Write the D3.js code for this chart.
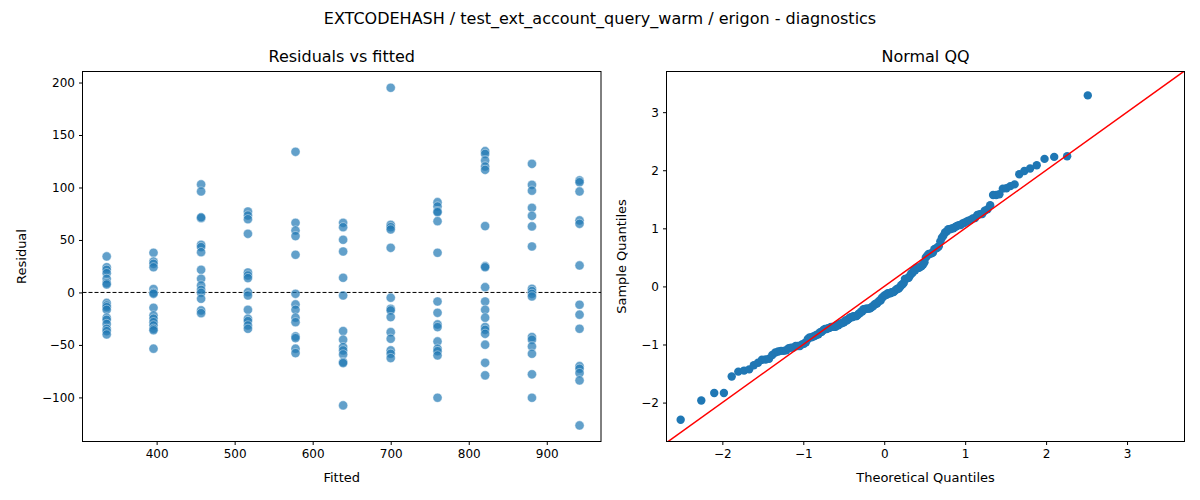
<!DOCTYPE html>
<html><head><meta charset="utf-8">
<script src="https://cdn.jsdelivr.net/npm/d3@7"></script>
<style>
body{margin:0;background:#fff;font-family:"DejaVu Sans",sans-serif;}
text{font-family:"DejaVu Sans",sans-serif;fill:#000;}
.tick text{font-size:12px;}
</style></head>
<body><svg id="chart" width="1200" height="500"></svg>
<script>
// fitted value of each group
var fitted = [336, 396, 457, 517, 578, 639, 700, 760, 821, 881, 942];
// residuals per group
var residuals = [
  [34.3, 24, 21.6, 18.4, 13, 8.9, 7.6, -10, -12.4, -14, -16.5, -24, -26, -30, -34.6, -36.8, -40],
  [37.8, 29.5, 27.3, 24, 3.2, -0.3, -1.3, -14.6, -21.9, -25, -28.3, -31.4, -34.6, -36, -53.6],
  [102.9, 96.2, 70.8, 71.5, 45.4, 43.2, 38.4, 21.6, 13, 6.7, 2.5, -0.3, -6, -17.1, -19.7],
  [77.1, 73.3, 69.8, 55.9, 19, 16.2, 13.7, 0.3, -2.9, -16.5, -25, -27.3, -31.4, -34.6],
  [134, 66.3, 59, 53.7, 35.9, -1.3, -11.4, -16.5, -24, -28.3, -41.9, -43.5, -53.6, -57.8],
  [66.3, 62.2, 50.2, 39, 14, -2.9, -36.8, -45, -52, -55.2, -59, -66.3, -67.3, -107.6],
  [195, 64.4, 62.2, 60, 42.5, -5, -15.6, -17.1, -23.5, -37.8, -44.1, -55.2, -58.4, -62.5],
  [86, 81.9, 77.4, 76.5, 67.9, 37.8, -8.6, -19.4, -30.5, -33, -46.7, -53.6, -55.9, -60, -100.3],
  [134.6, 132, 125.7, 120, 116.8, 63.2, 25, 24, 5, -8.6, -16.5, -24, -33, -35.6, -39.4, -49.8, -67, -79],
  [122.5, 102.5, 97, 80.6, 73, 62.9, 43.8, 3.5, 1.3, -1.3, -3.8, -42.5, -45, -51.4, -58.4, -78, -100.3],
  [106.7, 105, 96.2, 68.6, 65.4, 25.7, -11.7, -21.2, -34.6, -70.2, -72.7, -76.8, -83.8, -126.7]
];
var residTicks = [-100, -50, 0, 50, 100, 150, 200];
var fittedTicks = [400, 500, 600, 700, 800, 900];
var qqTicks = [-2, -1, 0, 1, 2, 3];
var qqYTicks = [-2, -1, 0, 1, 2, 3];

var points = [];
fitted.forEach((f, i) => residuals[i].forEach(r => points.push({ f: f, r: r })));

// inverse normal cdf (Acklam)
function ppf(p) {
  var a = [-39.69683028665376, 220.9460984245205, -275.9285104469687, 138.357751867269, -30.66479806614716, 2.506628277459239];
  var b = [-54.47609879822406, 161.5858368580409, -155.6989798598866, 66.80131188771972, -13.28068155211639];
  var c = [-0.007784894002430293, -0.3223964580411365, -2.400758277161838, -2.549732539343734, 4.374664141464968, 2.938163982698783];
  var d = [0.007784695709041462, 0.3224671290700398, 2.445134137142996, 3.754408661907416];
  var q, r;
  if (p < 0.02425) {
    q = Math.sqrt(-2 * Math.log(p));
    return (((((c[0]*q+c[1])*q+c[2])*q+c[3])*q+c[4])*q+c[5]) / ((((d[0]*q+d[1])*q+d[2])*q+d[3])*q+1);
  }
  if (p > 1 - 0.02425) {
    q = Math.sqrt(-2 * Math.log(1 - p));
    return -(((((c[0]*q+c[1])*q+c[2])*q+c[3])*q+c[4])*q+c[5]) / ((((d[0]*q+d[1])*q+d[2])*q+d[3])*q+1);
  }
  q = p - 0.5; r = q * q;
  return (((((a[0]*r+a[1])*r+a[2])*r+a[3])*r+a[4])*r+a[5])*q / (((((b[0]*r+b[1])*r+b[2])*r+b[3])*r+b[4])*r+1);
}

var all = points.map(d => d.r);
var mean = d3.mean(all), sd = d3.deviation(all);
var sorted = all.map(v => (v - mean) / sd).sort(d3.ascending);
var n = sorted.length;
var qq = sorted.map((s, i) => ({ t: ppf((i + 1) / (n + 1)), s: s }));

var svg = d3.select("#chart");
var minus = s => String(s).replace("-", "\u2212");

svg.append("text").attr("x", 600).attr("y", 24).attr("text-anchor", "middle")
  .style("font-size", "16px").text("EXTCODEHASH / test_ext_account_query_warm / erigon - diagnostics");

// left panel
var L = { left: 82.5, right: 601, top: 71.5, bottom: 441.5 };
var x1 = d3.scaleLinear().domain([305, 969.5]).range([L.left, L.right]);
var y1 = d3.scaleLinear().domain([-142, 210.5]).range([L.bottom, L.top]);

svg.append("g").attr("transform", `translate(0,${L.bottom})`)
  .call(d3.axisBottom(x1).tickValues(fittedTicks).tickSize(3.5).tickPadding(4).tickSizeOuter(0))
  .call(g => g.select(".domain").remove());
svg.append("g").attr("transform", `translate(${L.left},0)`)
  .call(d3.axisLeft(y1).tickValues(residTicks).tickSize(3.5).tickPadding(4).tickFormat(minus))
  .call(g => g.select(".domain").remove());

svg.append("line").attr("x1", L.left).attr("x2", L.right).attr("y1", y1(0)).attr("y2", y1(0))
  .attr("stroke", "#000").attr("stroke-dasharray", "4,2").attr("stroke-width", 1);

svg.append("g").selectAll("circle").data(points).enter().append("circle")
  .attr("cx", d => x1(d.f)).attr("cy", d => y1(d.r)).attr("r", 4.6)
  .attr("fill", "#1f77b4").attr("fill-opacity", 0.7)
  .attr("stroke", "#fff").attr("stroke-opacity", 0.7).attr("stroke-width", 0.6);

svg.append("rect").attr("x", L.left).attr("y", L.top).attr("width", L.right - L.left).attr("height", L.bottom - L.top)
  .attr("fill", "none").attr("stroke", "#000").attr("stroke-width", 1);

svg.append("text").attr("x", (L.left + L.right) / 2).attr("y", 62).attr("text-anchor", "middle")
  .style("font-size", "16px").text("Residuals vs fitted");
svg.append("text").attr("x", (L.left + L.right) / 2).attr("y", 482).attr("text-anchor", "middle")
  .style("font-size", "13px").text("Fitted");
svg.append("text").attr("transform", `translate(26,${(L.top + L.bottom) / 2}) rotate(-90)`)
  .attr("text-anchor", "middle").style("font-size", "13px").text("Residual");

// right panel
var R = { left: 666.5, right: 1184.5, top: 71.5, bottom: 441.5 };
var x2 = d3.scaleLinear().domain([-2.69, 3.71]).range([R.left, R.right]);
var y2 = d3.scaleLinear().domain([-2.67, 3.70]).range([R.bottom, R.top]);

svg.append("g").attr("transform", `translate(0,${R.bottom})`)
  .call(d3.axisBottom(x2).tickValues(qqTicks).tickSize(3.5).tickPadding(4).tickFormat(minus).tickSizeOuter(0))
  .call(g => g.select(".domain").remove());
svg.append("g").attr("transform", `translate(${R.left},0)`)
  .call(d3.axisLeft(y2).tickValues(qqYTicks).tickSize(3.5).tickPadding(4).tickFormat(minus))
  .call(g => g.select(".domain").remove());

svg.append("g").selectAll("circle").data(qq).enter().append("circle")
  .attr("cx", d => x2(d.t)).attr("cy", d => y2(d.s)).attr("r", 4.2).attr("fill", "#1f77b4");

svg.append("clipPath").attr("id", "clipR").append("rect")
  .attr("x", R.left).attr("y", R.top).attr("width", R.right - R.left).attr("height", R.bottom - R.top);
svg.append("line").attr("clip-path", "url(#clipR)")
  .attr("x1", x2(-3)).attr("y1", y2(-3)).attr("x2", x2(4)).attr("y2", y2(4))
  .attr("stroke", "red").attr("stroke-width", 1.5);

svg.append("rect").attr("x", R.left).attr("y", R.top).attr("width", R.right - R.left).attr("height", R.bottom - R.top)
  .attr("fill", "none").attr("stroke", "#000").attr("stroke-width", 1);

svg.append("text").attr("x", (R.left + R.right) / 2).attr("y", 62).attr("text-anchor", "middle")
  .style("font-size", "16px").text("Normal QQ");
svg.append("text").attr("x", (R.left + R.right) / 2).attr("y", 482).attr("text-anchor", "middle")
  .style("font-size", "13px").text("Theoretical Quantiles");
svg.append("text").attr("transform", `translate(626,${(R.top + R.bottom) / 2}) rotate(-90)`)
  .attr("text-anchor", "middle").style("font-size", "13px").text("Sample Quantiles");
</script></body></html>
